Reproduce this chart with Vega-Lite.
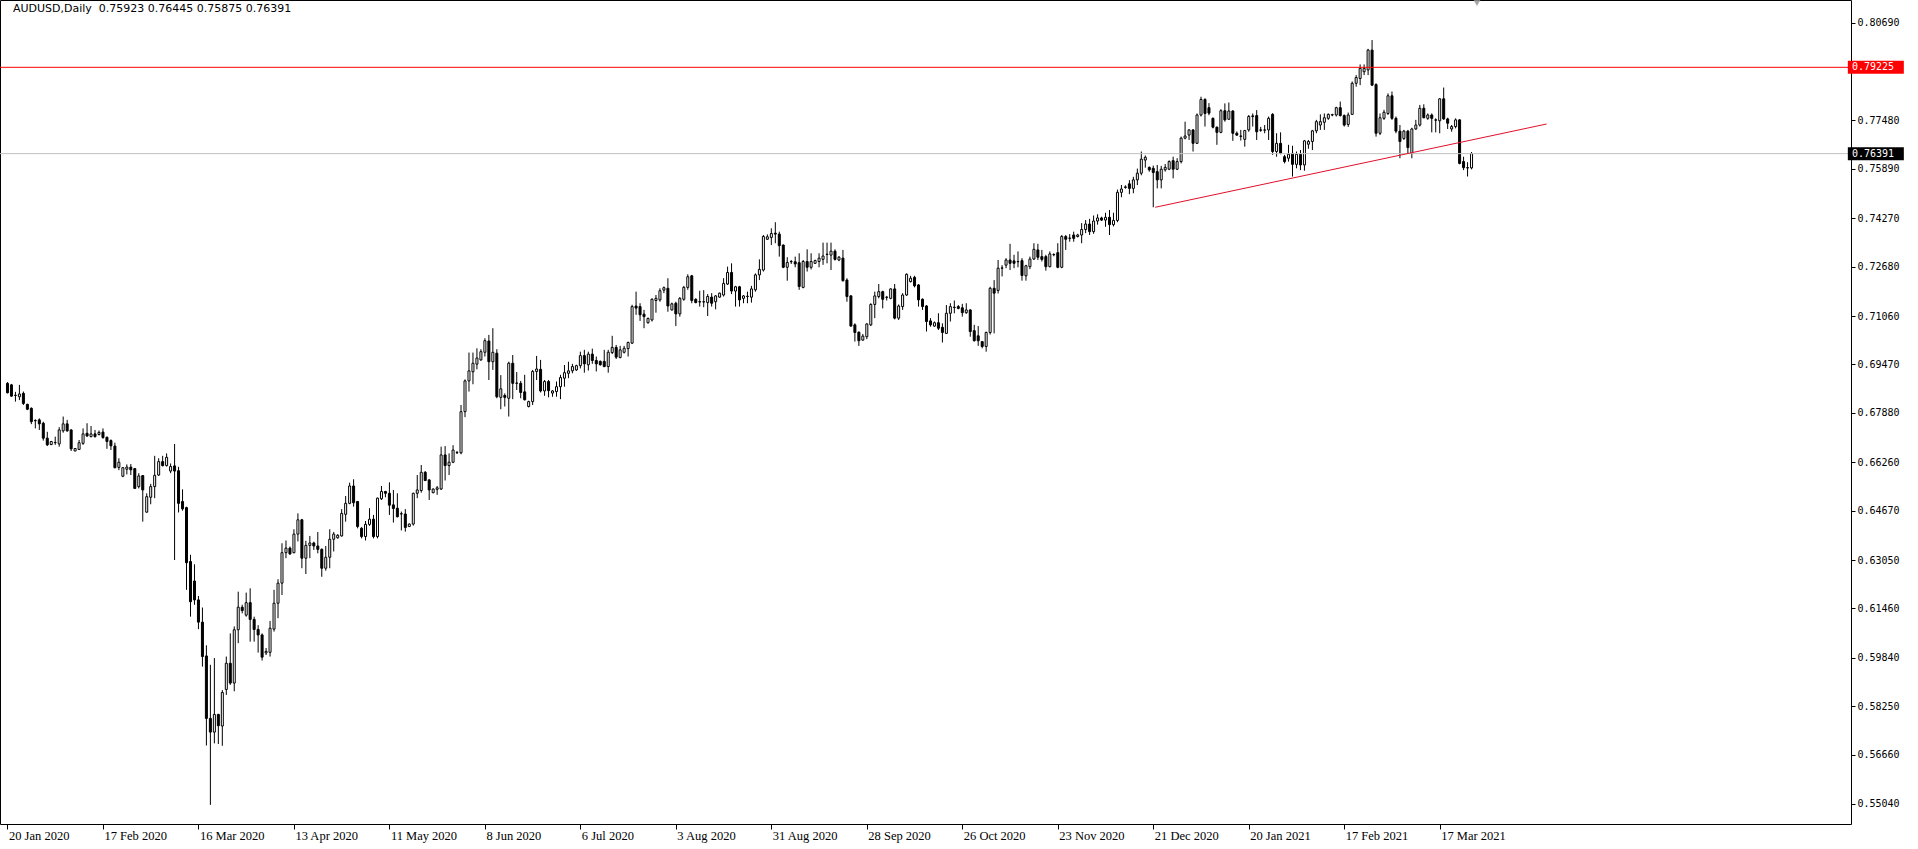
{
"$schema":"https://vega.github.io/schema/vega-lite/v6.json",
"width":1851,"height":824,
"autosize":{"type":"none"},
"padding":{"left":0,"top":0,"right":67,"bottom":25},
"background":"#ffffff",
"config":{"view":{"stroke":"#000000","strokeWidth":1},"axis":{"grid":false,"domain":false}},
"title":{"text":"AUDUSD,Daily\u00a0 0.75923 0.76445 0.75875 0.76391","anchor":"start","frame":"group","orient":"top","offset":-14,"dx":13,"baseline":"top","font":"DejaVu Sans","fontSize":11,"fontWeight":"normal","color":"#000000"},
"resolve":{"axis":{"x":"independent","y":"independent"}},
"layer":[
{"data":{"values":[
{"d":"2020-01-20","o":0.6885,"h":0.6889,"l":0.6852,"c":0.6854},
{"d":"2020-01-21","o":0.6880,"h":0.6883,"l":0.6841,"c":0.6843},
{"d":"2020-01-22","o":0.6845,"h":0.6857,"l":0.6825,"c":0.6846},
{"d":"2020-01-23","o":0.6841,"h":0.6880,"l":0.6830,"c":0.6850},
{"d":"2020-01-24","o":0.6852,"h":0.6858,"l":0.6814,"c":0.6819},
{"d":"2020-01-26","o":0.6816,"h":0.6818,"l":0.6797,"c":0.6800},
{"d":"2020-01-27","o":0.6803,"h":0.6806,"l":0.6751,"c":0.6759},
{"d":"2020-01-28","o":0.6762,"h":0.6767,"l":0.6737,"c":0.6763},
{"d":"2020-01-29","o":0.6765,"h":0.6770,"l":0.6732,"c":0.6752},
{"d":"2020-01-30","o":0.6754,"h":0.6759,"l":0.6697,"c":0.6705},
{"d":"2020-01-31","o":0.6705,"h":0.6726,"l":0.6679,"c":0.6683},
{"d":"2020-02-02","o":0.6684,"h":0.6696,"l":0.6682,"c":0.6694},
{"d":"2020-02-03","o":0.6690,"h":0.6710,"l":0.6683,"c":0.6691},
{"d":"2020-02-04","o":0.6686,"h":0.6741,"l":0.6677,"c":0.6732},
{"d":"2020-02-05","o":0.6729,"h":0.6776,"l":0.6723,"c":0.6752},
{"d":"2020-02-06","o":0.6752,"h":0.6765,"l":0.6726,"c":0.6729},
{"d":"2020-02-07","o":0.6732,"h":0.6734,"l":0.6663,"c":0.6670},
{"d":"2020-02-09","o":0.6663,"h":0.6672,"l":0.6662,"c":0.6671},
{"d":"2020-02-10","o":0.6668,"h":0.6699,"l":0.6666,"c":0.6690},
{"d":"2020-02-11","o":0.6688,"h":0.6737,"l":0.6683,"c":0.6719},
{"d":"2020-02-12","o":0.6721,"h":0.6754,"l":0.6710,"c":0.6712},
{"d":"2020-02-13","o":0.6710,"h":0.6745,"l":0.6708,"c":0.6719},
{"d":"2020-02-14","o":0.6719,"h":0.6732,"l":0.6707,"c":0.6710},
{"d":"2020-02-16","o":0.6717,"h":0.6730,"l":0.6714,"c":0.6724},
{"d":"2020-02-17","o":0.6725,"h":0.6737,"l":0.6703,"c":0.6707},
{"d":"2020-02-18","o":0.6708,"h":0.6710,"l":0.6670,"c":0.6694},
{"d":"2020-02-19","o":0.6697,"h":0.6701,"l":0.6666,"c":0.6680},
{"d":"2020-02-20","o":0.6679,"h":0.6690,"l":0.6606,"c":0.6608},
{"d":"2020-02-21","o":0.6609,"h":0.6639,"l":0.6600,"c":0.6626},
{"d":"2020-02-23","o":0.6580,"h":0.6610,"l":0.6577,"c":0.6608},
{"d":"2020-02-24","o":0.6603,"h":0.6619,"l":0.6586,"c":0.6610},
{"d":"2020-02-25","o":0.6610,"h":0.6620,"l":0.6584,"c":0.6601},
{"d":"2020-02-26","o":0.6605,"h":0.6607,"l":0.6538,"c":0.6540},
{"d":"2020-02-27","o":0.6546,"h":0.6590,"l":0.6540,"c":0.6581},
{"d":"2020-02-28","o":0.6582,"h":0.6584,"l":0.6431,"c":0.6535},
{"d":"2020-03-01","o":0.6462,"h":0.6524,"l":0.6461,"c":0.6513},
{"d":"2020-03-02","o":0.6511,"h":0.6555,"l":0.6488,"c":0.6546},
{"d":"2020-03-03","o":0.6546,"h":0.6647,"l":0.6508,"c":0.6583},
{"d":"2020-03-04","o":0.6584,"h":0.6639,"l":0.6581,"c":0.6628},
{"d":"2020-03-05","o":0.6628,"h":0.6647,"l":0.6612,"c":0.6615},
{"d":"2020-03-06","o":0.6615,"h":0.6655,"l":0.6612,"c":0.6642},
{"d":"2020-03-08","o":0.6597,"h":0.6622,"l":0.6590,"c":0.6612},
{"d":"2020-03-09","o":0.6614,"h":0.6686,"l":0.6305,"c":0.6597},
{"d":"2020-03-10","o":0.6598,"h":0.6611,"l":0.6461,"c":0.6491},
{"d":"2020-03-11","o":0.6497,"h":0.6537,"l":0.6467,"c":0.6473},
{"d":"2020-03-12","o":0.6477,"h":0.6480,"l":0.6207,"c":0.6296},
{"d":"2020-03-13","o":0.6300,"h":0.6322,"l":0.6119,"c":0.6168},
{"d":"2020-03-15","o":0.6236,"h":0.6291,"l":0.6158,"c":0.6174},
{"d":"2020-03-16","o":0.6174,"h":0.6187,"l":0.6078,"c":0.6101},
{"d":"2020-03-17","o":0.6101,"h":0.6149,"l":0.5955,"c":0.5988},
{"d":"2020-03-18","o":0.5990,"h":0.6025,"l":0.5696,"c":0.5785},
{"d":"2020-03-19","o":0.5785,"h":0.5961,"l":0.5501,"c":0.5740},
{"d":"2020-03-20","o":0.5740,"h":0.5983,"l":0.5703,"c":0.5798},
{"d":"2020-03-22","o":0.5798,"h":0.5800,"l":0.5701,"c":0.5761},
{"d":"2020-03-23","o":0.5760,"h":0.5878,"l":0.5695,"c":0.5870},
{"d":"2020-03-24","o":0.5880,"h":0.5988,"l":0.5862,"c":0.5966},
{"d":"2020-03-25","o":0.5966,"h":0.6064,"l":0.5895,"c":0.5901},
{"d":"2020-03-26","o":0.5901,"h":0.6087,"l":0.5874,"c":0.6076},
{"d":"2020-03-27","o":0.6076,"h":0.6201,"l":0.6032,"c":0.6150},
{"d":"2020-03-29","o":0.6150,"h":0.6158,"l":0.6130,"c":0.6139},
{"d":"2020-03-30","o":0.6124,"h":0.6198,"l":0.6119,"c":0.6165},
{"d":"2020-03-31","o":0.6165,"h":0.6212,"l":0.6037,"c":0.6110},
{"d":"2020-04-01","o":0.6110,"h":0.6119,"l":0.6037,"c":0.6077},
{"d":"2020-04-02","o":0.6077,"h":0.6091,"l":0.6001,"c":0.6059},
{"d":"2020-04-03","o":0.6059,"h":0.6064,"l":0.5975,"c":0.5986},
{"d":"2020-04-05","o":0.6000,"h":0.6016,"l":0.5993,"c":0.6005},
{"d":"2020-04-06","o":0.6002,"h":0.6105,"l":0.5988,"c":0.6081},
{"d":"2020-04-07","o":0.6078,"h":0.6207,"l":0.6070,"c":0.6163},
{"d":"2020-04-08","o":0.6163,"h":0.6242,"l":0.6114,"c":0.6229},
{"d":"2020-04-09","o":0.6229,"h":0.6360,"l":0.6190,"c":0.6329},
{"d":"2020-04-10","o":0.6329,"h":0.6369,"l":0.6311,"c":0.6344},
{"d":"2020-04-12","o":0.6344,"h":0.6349,"l":0.6322,"c":0.6325},
{"d":"2020-04-13","o":0.6329,"h":0.6406,"l":0.6327,"c":0.6390},
{"d":"2020-04-14","o":0.6390,"h":0.6458,"l":0.6366,"c":0.6437},
{"d":"2020-04-15","o":0.6437,"h":0.6440,"l":0.6278,"c":0.6311},
{"d":"2020-04-16","o":0.6311,"h":0.6368,"l":0.6259,"c":0.6353},
{"d":"2020-04-17","o":0.6353,"h":0.6384,"l":0.6311,"c":0.6361},
{"d":"2020-04-19","o":0.6361,"h":0.6365,"l":0.6338,"c":0.6351},
{"d":"2020-04-20","o":0.6351,"h":0.6397,"l":0.6327,"c":0.6340},
{"d":"2020-04-21","o":0.6340,"h":0.6343,"l":0.6250,"c":0.6278},
{"d":"2020-04-22","o":0.6278,"h":0.6351,"l":0.6270,"c":0.6314},
{"d":"2020-04-23","o":0.6314,"h":0.6406,"l":0.6278,"c":0.6373},
{"d":"2020-04-24","o":0.6373,"h":0.6397,"l":0.6333,"c":0.6390},
{"d":"2020-04-26","o":0.6378,"h":0.6390,"l":0.6375,"c":0.6386},
{"d":"2020-04-27","o":0.6384,"h":0.6472,"l":0.6382,"c":0.6458},
{"d":"2020-04-28","o":0.6455,"h":0.6515,"l":0.6431,"c":0.6491},
{"d":"2020-04-29","o":0.6491,"h":0.6559,"l":0.6488,"c":0.6548},
{"d":"2020-04-30","o":0.6548,"h":0.6570,"l":0.6480,"c":0.6493},
{"d":"2020-05-01","o":0.6497,"h":0.6499,"l":0.6409,"c":0.6415},
{"d":"2020-05-03","o":0.6409,"h":0.6413,"l":0.6376,"c":0.6382},
{"d":"2020-05-04","o":0.6382,"h":0.6433,"l":0.6369,"c":0.6422},
{"d":"2020-05-05","o":0.6422,"h":0.6475,"l":0.6417,"c":0.6439},
{"d":"2020-05-06","o":0.6439,"h":0.6453,"l":0.6376,"c":0.6382},
{"d":"2020-05-07","o":0.6382,"h":0.6510,"l":0.6376,"c":0.6508},
{"d":"2020-05-08","o":0.6506,"h":0.6548,"l":0.6502,"c":0.6530},
{"d":"2020-05-10","o":0.6530,"h":0.6532,"l":0.6511,"c":0.6524},
{"d":"2020-05-11","o":0.6524,"h":0.6560,"l":0.6453,"c":0.6485},
{"d":"2020-05-12","o":0.6486,"h":0.6535,"l":0.6428,"c":0.6474},
{"d":"2020-05-13","o":0.6475,"h":0.6524,"l":0.6445,"c":0.6447},
{"d":"2020-05-14","o":0.6456,"h":0.6464,"l":0.6402,"c":0.6457},
{"d":"2020-05-15","o":0.6456,"h":0.6472,"l":0.6398,"c":0.6412},
{"d":"2020-05-17","o":0.6415,"h":0.6425,"l":0.6413,"c":0.6423},
{"d":"2020-05-18","o":0.6423,"h":0.6526,"l":0.6418,"c":0.6524},
{"d":"2020-05-19","o":0.6524,"h":0.6584,"l":0.6508,"c":0.6535},
{"d":"2020-05-20","o":0.6533,"h":0.6617,"l":0.6526,"c":0.6593},
{"d":"2020-05-21","o":0.6593,"h":0.6597,"l":0.6564,"c":0.6566},
{"d":"2020-05-22","o":0.6568,"h":0.6570,"l":0.6502,"c":0.6535},
{"d":"2020-05-24","o":0.6526,"h":0.6540,"l":0.6524,"c":0.6538},
{"d":"2020-05-25","o":0.6537,"h":0.6548,"l":0.6519,"c":0.6542},
{"d":"2020-05-26","o":0.6538,"h":0.6677,"l":0.6535,"c":0.6650},
{"d":"2020-05-27","o":0.6650,"h":0.6679,"l":0.6566,"c":0.6615},
{"d":"2020-05-28","o":0.6615,"h":0.6655,"l":0.6584,"c":0.6626},
{"d":"2020-05-29","o":0.6626,"h":0.6682,"l":0.6623,"c":0.6666},
{"d":"2020-05-31","o":0.6657,"h":0.6663,"l":0.6653,"c":0.6658},
{"d":"2020-06-01","o":0.6657,"h":0.6814,"l":0.6652,"c":0.6792},
{"d":"2020-06-02","o":0.6792,"h":0.6898,"l":0.6774,"c":0.6893},
{"d":"2020-06-03","o":0.6893,"h":0.6986,"l":0.6858,"c":0.6926},
{"d":"2020-06-04","o":0.6923,"h":0.6986,"l":0.6882,"c":0.6951},
{"d":"2020-06-05","o":0.6948,"h":0.7000,"l":0.6931,"c":0.6968},
{"d":"2020-06-07","o":0.6962,"h":0.6997,"l":0.6959,"c":0.6989},
{"d":"2020-06-08","o":0.6987,"h":0.7033,"l":0.6973,"c":0.7025},
{"d":"2020-06-09","o":0.7024,"h":0.7044,"l":0.6896,"c":0.6956},
{"d":"2020-06-10","o":0.6956,"h":0.7066,"l":0.6929,"c":0.6987},
{"d":"2020-06-11","o":0.6984,"h":0.6997,"l":0.6836,"c":0.6841},
{"d":"2020-06-12","o":0.6839,"h":0.6912,"l":0.6800,"c":0.6867},
{"d":"2020-06-14","o":0.6845,"h":0.6852,"l":0.6809,"c":0.6839},
{"d":"2020-06-15","o":0.6836,"h":0.6956,"l":0.6776,"c":0.6951},
{"d":"2020-06-16","o":0.6951,"h":0.6978,"l":0.6833,"c":0.6885},
{"d":"2020-06-17","o":0.6885,"h":0.6922,"l":0.6863,"c":0.6886},
{"d":"2020-06-18","o":0.6885,"h":0.6893,"l":0.6836,"c":0.6855},
{"d":"2020-06-19","o":0.6857,"h":0.6913,"l":0.6829,"c":0.6831},
{"d":"2020-06-21","o":0.6809,"h":0.6828,"l":0.6806,"c":0.6825},
{"d":"2020-06-22","o":0.6825,"h":0.6929,"l":0.6814,"c":0.6924},
{"d":"2020-06-23","o":0.6924,"h":0.6975,"l":0.6896,"c":0.6932},
{"d":"2020-06-24","o":0.6931,"h":0.6962,"l":0.6855,"c":0.6860},
{"d":"2020-06-25","o":0.6860,"h":0.6896,"l":0.6844,"c":0.6891},
{"d":"2020-06-26","o":0.6891,"h":0.6896,"l":0.6839,"c":0.6861},
{"d":"2020-06-28","o":0.6853,"h":0.6863,"l":0.6841,"c":0.6860},
{"d":"2020-06-29","o":0.6858,"h":0.6891,"l":0.6841,"c":0.6874},
{"d":"2020-06-30","o":0.6874,"h":0.6913,"l":0.6833,"c":0.6904},
{"d":"2020-07-01","o":0.6902,"h":0.6945,"l":0.6874,"c":0.6920},
{"d":"2020-07-02","o":0.6918,"h":0.6956,"l":0.6902,"c":0.6926},
{"d":"2020-07-03","o":0.6926,"h":0.6949,"l":0.6918,"c":0.6940},
{"d":"2020-07-05","o":0.6929,"h":0.6946,"l":0.6926,"c":0.6943},
{"d":"2020-07-06","o":0.6943,"h":0.6989,"l":0.6934,"c":0.6976},
{"d":"2020-07-07","o":0.6976,"h":0.6995,"l":0.6920,"c":0.6949},
{"d":"2020-07-08","o":0.6946,"h":0.6989,"l":0.6927,"c":0.6981},
{"d":"2020-07-09","o":0.6981,"h":0.6999,"l":0.6949,"c":0.6960},
{"d":"2020-07-10","o":0.6960,"h":0.6973,"l":0.6924,"c":0.6949},
{"d":"2020-07-12","o":0.6957,"h":0.6960,"l":0.6943,"c":0.6946},
{"d":"2020-07-13","o":0.6957,"h":0.6995,"l":0.6938,"c":0.6940},
{"d":"2020-07-14","o":0.6940,"h":0.6995,"l":0.6920,"c":0.6987},
{"d":"2020-07-15","o":0.6986,"h":0.7041,"l":0.6981,"c":0.7003},
{"d":"2020-07-16","o":0.7003,"h":0.7011,"l":0.6965,"c":0.6971},
{"d":"2020-07-17","o":0.6970,"h":0.7008,"l":0.6967,"c":0.6995},
{"d":"2020-07-19","o":0.6987,"h":0.7008,"l":0.6983,"c":0.7000},
{"d":"2020-07-20","o":0.6999,"h":0.7022,"l":0.6973,"c":0.7019},
{"d":"2020-07-21","o":0.7017,"h":0.7143,"l":0.7014,"c":0.7137},
{"d":"2020-07-22","o":0.7139,"h":0.7186,"l":0.7110,"c":0.7132},
{"d":"2020-07-23","o":0.7137,"h":0.7148,"l":0.7090,"c":0.7110},
{"d":"2020-07-24","o":0.7112,"h":0.7126,"l":0.7066,"c":0.7104},
{"d":"2020-07-26","o":0.7084,"h":0.7101,"l":0.7081,"c":0.7098},
{"d":"2020-07-27","o":0.7093,"h":0.7164,"l":0.7088,"c":0.7161},
{"d":"2020-07-28","o":0.7157,"h":0.7175,"l":0.7117,"c":0.7164},
{"d":"2020-07-29","o":0.7159,"h":0.7197,"l":0.7153,"c":0.7189},
{"d":"2020-07-30","o":0.7191,"h":0.7203,"l":0.7181,"c":0.7199},
{"d":"2020-07-31","o":0.7197,"h":0.7230,"l":0.7120,"c":0.7139},
{"d":"2020-08-02","o":0.7126,"h":0.7150,"l":0.7124,"c":0.7146},
{"d":"2020-08-03","o":0.7148,"h":0.7153,"l":0.7073,"c":0.7113},
{"d":"2020-08-04","o":0.7113,"h":0.7168,"l":0.7104,"c":0.7164},
{"d":"2020-08-05","o":0.7161,"h":0.7205,"l":0.7156,"c":0.7200},
{"d":"2020-08-06","o":0.7200,"h":0.7243,"l":0.7192,"c":0.7235},
{"d":"2020-08-07","o":0.7238,"h":0.7241,"l":0.7148,"c":0.7157},
{"d":"2020-08-09","o":0.7161,"h":0.7164,"l":0.7148,"c":0.7150},
{"d":"2020-08-10","o":0.7153,"h":0.7189,"l":0.7137,"c":0.7152},
{"d":"2020-08-11","o":0.7152,"h":0.7191,"l":0.7135,"c":0.7153},
{"d":"2020-08-12","o":0.7150,"h":0.7178,"l":0.7106,"c":0.7170},
{"d":"2020-08-13","o":0.7168,"h":0.7181,"l":0.7137,"c":0.7148},
{"d":"2020-08-14","o":0.7153,"h":0.7175,"l":0.7128,"c":0.7172},
{"d":"2020-08-16","o":0.7168,"h":0.7183,"l":0.7166,"c":0.7181},
{"d":"2020-08-17","o":0.7175,"h":0.7230,"l":0.7170,"c":0.7213},
{"d":"2020-08-18","o":0.7211,"h":0.7268,"l":0.7208,"c":0.7249},
{"d":"2020-08-19","o":0.7249,"h":0.7279,"l":0.7178,"c":0.7188},
{"d":"2020-08-20","o":0.7188,"h":0.7205,"l":0.7137,"c":0.7202},
{"d":"2020-08-21","o":0.7202,"h":0.7205,"l":0.7137,"c":0.7159},
{"d":"2020-08-23","o":0.7164,"h":0.7175,"l":0.7148,"c":0.7172},
{"d":"2020-08-24","o":0.7170,"h":0.7186,"l":0.7148,"c":0.7171},
{"d":"2020-08-25","o":0.7168,"h":0.7205,"l":0.7150,"c":0.7195},
{"d":"2020-08-26","o":0.7192,"h":0.7246,"l":0.7186,"c":0.7241},
{"d":"2020-08-27","o":0.7241,"h":0.7292,"l":0.7224,"c":0.7259},
{"d":"2020-08-28","o":0.7257,"h":0.7372,"l":0.7252,"c":0.7367},
{"d":"2020-08-30","o":0.7358,"h":0.7374,"l":0.7356,"c":0.7366},
{"d":"2020-08-31","o":0.7364,"h":0.7394,"l":0.7339,"c":0.7377},
{"d":"2020-09-01","o":0.7378,"h":0.7414,"l":0.7345,"c":0.7375},
{"d":"2020-09-02","o":0.7375,"h":0.7383,"l":0.7301,"c":0.7337},
{"d":"2020-09-03","o":0.7339,"h":0.7341,"l":0.7263,"c":0.7266},
{"d":"2020-09-04","o":0.7266,"h":0.7299,"l":0.7222,"c":0.7282},
{"d":"2020-09-06","o":0.7284,"h":0.7290,"l":0.7277,"c":0.7285},
{"d":"2020-09-07","o":0.7284,"h":0.7301,"l":0.7266,"c":0.7277},
{"d":"2020-09-08","o":0.7281,"h":0.7312,"l":0.7192,"c":0.7203},
{"d":"2020-09-09","o":0.7200,"h":0.7290,"l":0.7197,"c":0.7285},
{"d":"2020-09-10","o":0.7285,"h":0.7325,"l":0.7252,"c":0.7266},
{"d":"2020-09-11","o":0.7266,"h":0.7312,"l":0.7259,"c":0.7285},
{"d":"2020-09-13","o":0.7279,"h":0.7291,"l":0.7277,"c":0.7288},
{"d":"2020-09-14","o":0.7285,"h":0.7312,"l":0.7266,"c":0.7296},
{"d":"2020-09-15","o":0.7292,"h":0.7347,"l":0.7274,"c":0.7303},
{"d":"2020-09-16","o":0.7309,"h":0.7347,"l":0.7279,"c":0.7308},
{"d":"2020-09-17","o":0.7306,"h":0.7347,"l":0.7257,"c":0.7319},
{"d":"2020-09-18","o":0.7319,"h":0.7325,"l":0.7288,"c":0.7292},
{"d":"2020-09-20","o":0.7290,"h":0.7303,"l":0.7286,"c":0.7299},
{"d":"2020-09-21","o":0.7296,"h":0.7323,"l":0.7219,"c":0.7222},
{"d":"2020-09-22","o":0.7224,"h":0.7230,"l":0.7153,"c":0.7170},
{"d":"2020-09-23","o":0.7172,"h":0.7175,"l":0.7071,"c":0.7073},
{"d":"2020-09-24","o":0.7077,"h":0.7082,"l":0.7022,"c":0.7052},
{"d":"2020-09-25","o":0.7053,"h":0.7055,"l":0.7008,"c":0.7025},
{"d":"2020-09-27","o":0.7027,"h":0.7047,"l":0.7025,"c":0.7040},
{"d":"2020-09-28","o":0.7038,"h":0.7082,"l":0.7030,"c":0.7080},
{"d":"2020-09-29","o":0.7077,"h":0.7148,"l":0.7073,"c":0.7144},
{"d":"2020-09-30","o":0.7144,"h":0.7186,"l":0.7099,"c":0.7172},
{"d":"2020-10-01","o":0.7170,"h":0.7211,"l":0.7164,"c":0.7186},
{"d":"2020-10-02","o":0.7186,"h":0.7189,"l":0.7131,"c":0.7161},
{"d":"2020-10-04","o":0.7167,"h":0.7172,"l":0.7157,"c":0.7168},
{"d":"2020-10-05","o":0.7164,"h":0.7197,"l":0.7161,"c":0.7195},
{"d":"2020-10-06","o":0.7195,"h":0.7211,"l":0.7095,"c":0.7099},
{"d":"2020-10-07","o":0.7099,"h":0.7144,"l":0.7093,"c":0.7139},
{"d":"2020-10-08","o":0.7137,"h":0.7181,"l":0.7126,"c":0.7175},
{"d":"2020-10-09","o":0.7175,"h":0.7246,"l":0.7172,"c":0.7243},
{"d":"2020-10-11","o":0.7219,"h":0.7238,"l":0.7216,"c":0.7230},
{"d":"2020-10-12","o":0.7233,"h":0.7238,"l":0.7200,"c":0.7205},
{"d":"2020-10-13","o":0.7208,"h":0.7211,"l":0.7137,"c":0.7159},
{"d":"2020-10-14","o":0.7161,"h":0.7164,"l":0.7126,"c":0.7137},
{"d":"2020-10-15","o":0.7139,"h":0.7142,"l":0.7055,"c":0.7088},
{"d":"2020-10-16","o":0.7090,"h":0.7099,"l":0.7071,"c":0.7077},
{"d":"2020-10-18","o":0.7073,"h":0.7088,"l":0.7071,"c":0.7084},
{"d":"2020-10-19","o":0.7084,"h":0.7115,"l":0.7060,"c":0.7066},
{"d":"2020-10-20","o":0.7069,"h":0.7082,"l":0.7019,"c":0.7052},
{"d":"2020-10-21","o":0.7049,"h":0.7142,"l":0.7047,"c":0.7115},
{"d":"2020-10-22","o":0.7115,"h":0.7148,"l":0.7088,"c":0.7137},
{"d":"2020-10-23","o":0.7135,"h":0.7157,"l":0.7115,"c":0.7134},
{"d":"2020-10-25","o":0.7137,"h":0.7142,"l":0.7128,"c":0.7131},
{"d":"2020-10-26","o":0.7133,"h":0.7146,"l":0.7104,"c":0.7117},
{"d":"2020-10-27","o":0.7117,"h":0.7148,"l":0.7113,"c":0.7126},
{"d":"2020-10-28","o":0.7126,"h":0.7128,"l":0.7038,"c":0.7055},
{"d":"2020-10-29","o":0.7058,"h":0.7077,"l":0.7022,"c":0.7025},
{"d":"2020-10-30","o":0.7041,"h":0.7073,"l":0.7008,"c":0.7025},
{"d":"2020-11-01","o":0.7022,"h":0.7024,"l":0.7000,"c":0.7006},
{"d":"2020-11-02","o":0.7006,"h":0.7055,"l":0.6989,"c":0.7052},
{"d":"2020-11-03","o":0.7052,"h":0.7202,"l":0.7045,"c":0.7197},
{"d":"2020-11-04","o":0.7197,"h":0.7224,"l":0.7049,"c":0.7181},
{"d":"2020-11-05","o":0.7190,"h":0.7290,"l":0.7180,"c":0.7263},
{"d":"2020-11-06","o":0.7263,"h":0.7273,"l":0.7236,"c":0.7264},
{"d":"2020-11-08","o":0.7273,"h":0.7296,"l":0.7263,"c":0.7290},
{"d":"2020-11-09","o":0.7290,"h":0.7343,"l":0.7257,"c":0.7279},
{"d":"2020-11-10","o":0.7287,"h":0.7307,"l":0.7263,"c":0.7279},
{"d":"2020-11-11","o":0.7284,"h":0.7318,"l":0.7266,"c":0.7285},
{"d":"2020-11-12","o":0.7288,"h":0.7296,"l":0.7222,"c":0.7239},
{"d":"2020-11-13","o":0.7238,"h":0.7274,"l":0.7222,"c":0.7271},
{"d":"2020-11-15","o":0.7268,"h":0.7301,"l":0.7260,"c":0.7293},
{"d":"2020-11-16","o":0.7293,"h":0.7345,"l":0.7290,"c":0.7325},
{"d":"2020-11-17","o":0.7323,"h":0.7343,"l":0.7290,"c":0.7299},
{"d":"2020-11-18","o":0.7301,"h":0.7323,"l":0.7285,"c":0.7292},
{"d":"2020-11-19","o":0.7301,"h":0.7307,"l":0.7255,"c":0.7268},
{"d":"2020-11-20","o":0.7268,"h":0.7318,"l":0.7266,"c":0.7310},
{"d":"2020-11-22","o":0.7307,"h":0.7312,"l":0.7302,"c":0.7308},
{"d":"2020-11-23","o":0.7314,"h":0.7345,"l":0.7263,"c":0.7266},
{"d":"2020-11-24","o":0.7266,"h":0.7372,"l":0.7263,"c":0.7367},
{"d":"2020-11-25","o":0.7367,"h":0.7372,"l":0.7323,"c":0.7358},
{"d":"2020-11-26","o":0.7361,"h":0.7375,"l":0.7350,"c":0.7362},
{"d":"2020-11-27","o":0.7372,"h":0.7383,"l":0.7350,"c":0.7361},
{"d":"2020-11-29","o":0.7367,"h":0.7376,"l":0.7364,"c":0.7372},
{"d":"2020-11-30","o":0.7372,"h":0.7411,"l":0.7345,"c":0.7390},
{"d":"2020-12-01","o":0.7390,"h":0.7421,"l":0.7378,"c":0.7408},
{"d":"2020-12-02","o":0.7408,"h":0.7425,"l":0.7372,"c":0.7383},
{"d":"2020-12-03","o":0.7383,"h":0.7436,"l":0.7376,"c":0.7418},
{"d":"2020-12-04","o":0.7418,"h":0.7440,"l":0.7406,"c":0.7428},
{"d":"2020-12-06","o":0.7428,"h":0.7432,"l":0.7418,"c":0.7421},
{"d":"2020-12-07","o":0.7421,"h":0.7445,"l":0.7399,"c":0.7430},
{"d":"2020-12-08","o":0.7430,"h":0.7454,"l":0.7372,"c":0.7406},
{"d":"2020-12-09","o":0.7406,"h":0.7445,"l":0.7400,"c":0.7420},
{"d":"2020-12-10","o":0.7420,"h":0.7521,"l":0.7414,"c":0.7512},
{"d":"2020-12-11","o":0.7512,"h":0.7536,"l":0.7496,"c":0.7523},
{"d":"2020-12-13","o":0.7528,"h":0.7535,"l":0.7524,"c":0.7530},
{"d":"2020-12-14","o":0.7540,"h":0.7552,"l":0.7506,"c":0.7525},
{"d":"2020-12-15","o":0.7525,"h":0.7563,"l":0.7509,"c":0.7553},
{"d":"2020-12-16","o":0.7553,"h":0.7590,"l":0.7536,"c":0.7575},
{"d":"2020-12-17","o":0.7575,"h":0.7646,"l":0.7568,"c":0.7621},
{"d":"2020-12-18","o":0.7618,"h":0.7633,"l":0.7593,"c":0.7627},
{"d":"2020-12-20","o":0.7594,"h":0.7597,"l":0.7580,"c":0.7586},
{"d":"2020-12-21","o":0.7591,"h":0.7600,"l":0.7463,"c":0.7577},
{"d":"2020-12-22","o":0.7580,"h":0.7602,"l":0.7525,"c":0.7553},
{"d":"2020-12-23","o":0.7553,"h":0.7599,"l":0.7525,"c":0.7588},
{"d":"2020-12-24","o":0.7586,"h":0.7605,"l":0.7580,"c":0.7594},
{"d":"2020-12-27","o":0.7588,"h":0.7617,"l":0.7585,"c":0.7613},
{"d":"2020-12-28","o":0.7616,"h":0.7629,"l":0.7558,"c":0.7588},
{"d":"2020-12-29","o":0.7588,"h":0.7624,"l":0.7585,"c":0.7613},
{"d":"2020-12-30","o":0.7613,"h":0.7695,"l":0.7607,"c":0.7690},
{"d":"2020-12-31","o":0.7690,"h":0.7744,"l":0.7686,"c":0.7697},
{"d":"2021-01-03","o":0.7700,"h":0.7719,"l":0.7684,"c":0.7717},
{"d":"2021-01-04","o":0.7717,"h":0.7719,"l":0.7646,"c":0.7673},
{"d":"2021-01-05","o":0.7673,"h":0.7771,"l":0.7671,"c":0.7766},
{"d":"2021-01-06","o":0.7766,"h":0.7826,"l":0.7761,"c":0.7817},
{"d":"2021-01-07","o":0.7817,"h":0.7821,"l":0.7728,"c":0.7771},
{"d":"2021-01-08","o":0.7790,"h":0.7805,"l":0.7765,"c":0.7772},
{"d":"2021-01-10","o":0.7755,"h":0.7758,"l":0.7722,"c":0.7726},
{"d":"2021-01-11","o":0.7726,"h":0.7728,"l":0.7668,"c":0.7709},
{"d":"2021-01-12","o":0.7709,"h":0.7785,"l":0.7706,"c":0.7780},
{"d":"2021-01-13","o":0.7780,"h":0.7804,"l":0.7744,"c":0.7750},
{"d":"2021-01-14","o":0.7752,"h":0.7807,"l":0.7750,"c":0.7779},
{"d":"2021-01-15","o":0.7779,"h":0.7782,"l":0.7681,"c":0.7706},
{"d":"2021-01-17","o":0.7706,"h":0.7712,"l":0.7697,"c":0.7700},
{"d":"2021-01-18","o":0.7697,"h":0.7717,"l":0.7682,"c":0.7696},
{"d":"2021-01-19","o":0.7686,"h":0.7717,"l":0.7662,"c":0.7715},
{"d":"2021-01-20","o":0.7717,"h":0.7766,"l":0.7711,"c":0.7761},
{"d":"2021-01-21","o":0.7763,"h":0.7771,"l":0.7728,"c":0.7761},
{"d":"2021-01-22","o":0.7764,"h":0.7782,"l":0.7684,"c":0.7711},
{"d":"2021-01-24","o":0.7717,"h":0.7727,"l":0.7711,"c":0.7716},
{"d":"2021-01-25","o":0.7716,"h":0.7733,"l":0.7706,"c":0.7717},
{"d":"2021-01-26","o":0.7717,"h":0.7761,"l":0.7684,"c":0.7755},
{"d":"2021-01-27","o":0.7768,"h":0.7772,"l":0.7635,"c":0.7646},
{"d":"2021-01-28","o":0.7646,"h":0.7706,"l":0.7629,"c":0.7673},
{"d":"2021-01-29","o":0.7673,"h":0.7709,"l":0.7637,"c":0.7640},
{"d":"2021-01-31","o":0.7629,"h":0.7635,"l":0.7607,"c":0.7613},
{"d":"2021-02-01","o":0.7624,"h":0.7668,"l":0.7613,"c":0.7637},
{"d":"2021-02-02","o":0.7640,"h":0.7665,"l":0.7564,"c":0.7604},
{"d":"2021-02-03","o":0.7604,"h":0.7646,"l":0.7591,"c":0.7637},
{"d":"2021-02-04","o":0.7637,"h":0.7651,"l":0.7585,"c":0.7602},
{"d":"2021-02-05","o":0.7602,"h":0.7684,"l":0.7583,"c":0.7681},
{"d":"2021-02-07","o":0.7670,"h":0.7684,"l":0.7655,"c":0.7679},
{"d":"2021-02-08","o":0.7679,"h":0.7717,"l":0.7651,"c":0.7714},
{"d":"2021-02-09","o":0.7714,"h":0.7750,"l":0.7706,"c":0.7744},
{"d":"2021-02-10","o":0.7733,"h":0.7768,"l":0.7717,"c":0.7744},
{"d":"2021-02-11","o":0.7742,"h":0.7771,"l":0.7717,"c":0.7757},
{"d":"2021-02-12","o":0.7755,"h":0.7771,"l":0.7750,"c":0.7768},
{"d":"2021-02-14","o":0.7766,"h":0.7770,"l":0.7762,"c":0.7767},
{"d":"2021-02-15","o":0.7766,"h":0.7793,"l":0.7761,"c":0.7790},
{"d":"2021-02-16","o":0.7790,"h":0.7810,"l":0.7761,"c":0.7764},
{"d":"2021-02-17","o":0.7764,"h":0.7768,"l":0.7728,"c":0.7733},
{"d":"2021-02-18","o":0.7735,"h":0.7774,"l":0.7727,"c":0.7766},
{"d":"2021-02-19","o":0.7768,"h":0.7876,"l":0.7766,"c":0.7870},
{"d":"2021-02-21","o":0.7870,"h":0.7897,"l":0.7859,"c":0.7889},
{"d":"2021-02-22","o":0.7886,"h":0.7932,"l":0.7864,"c":0.7919},
{"d":"2021-02-23","o":0.7908,"h":0.7932,"l":0.7897,"c":0.7919},
{"d":"2021-02-24","o":0.7914,"h":0.7983,"l":0.7897,"c":0.7979},
{"d":"2021-02-25","o":0.7979,"h":0.8012,"l":0.7861,"c":0.7864},
{"d":"2021-02-26","o":0.7866,"h":0.7870,"l":0.7695,"c":0.7706},
{"d":"2021-02-28","o":0.7706,"h":0.7771,"l":0.7700,"c":0.7757},
{"d":"2021-03-01","o":0.7755,"h":0.7783,"l":0.7750,"c":0.7775},
{"d":"2021-03-02","o":0.7771,"h":0.7837,"l":0.7766,"c":0.7829},
{"d":"2021-03-03","o":0.7829,"h":0.7843,"l":0.7750,"c":0.7755},
{"d":"2021-03-04","o":0.7755,"h":0.7761,"l":0.7706,"c":0.7713},
{"d":"2021-03-05","o":0.7713,"h":0.7733,"l":0.7624,"c":0.7679},
{"d":"2021-03-07","o":0.7689,"h":0.7717,"l":0.7684,"c":0.7713},
{"d":"2021-03-08","o":0.7713,"h":0.7717,"l":0.7640,"c":0.7659},
{"d":"2021-03-09","o":0.7640,"h":0.7724,"l":0.7624,"c":0.7720},
{"d":"2021-03-10","o":0.7720,"h":0.7750,"l":0.7717,"c":0.7733},
{"d":"2021-03-11","o":0.7733,"h":0.7799,"l":0.7728,"c":0.7788},
{"d":"2021-03-12","o":0.7788,"h":0.7801,"l":0.7755,"c":0.7757},
{"d":"2021-03-14","o":0.7755,"h":0.7771,"l":0.7750,"c":0.7766},
{"d":"2021-03-15","o":0.7766,"h":0.7771,"l":0.7709,"c":0.7755},
{"d":"2021-03-16","o":0.7750,"h":0.7755,"l":0.7709,"c":0.7749},
{"d":"2021-03-17","o":0.7747,"h":0.7821,"l":0.7706,"c":0.7819},
{"d":"2021-03-18","o":0.7819,"h":0.7856,"l":0.7750,"c":0.7753},
{"d":"2021-03-19","o":0.7753,"h":0.7757,"l":0.7720,"c":0.7739},
{"d":"2021-03-21","o":0.7720,"h":0.7733,"l":0.7711,"c":0.7728},
{"d":"2021-03-22","o":0.7728,"h":0.7755,"l":0.7722,"c":0.7750},
{"d":"2021-03-23","o":0.7750,"h":0.7752,"l":0.7604,"c":0.7607},
{"d":"2021-03-24","o":0.7613,"h":0.7629,"l":0.7585,"c":0.7593},
{"d":"2021-03-25","o":0.7593,"h":0.7611,"l":0.7564,"c":0.7592},
{"d":"2021-03-26","o":0.75923,"h":0.76445,"l":0.75875,"c":0.76391}
]},
"transform":[{"window":[{"op":"row_number","as":"n"}]}],
"resolve":{"axis":{"x":"independent","y":"independent"}},
"layer":[
{"mark":{"type":"rule","color":"#000000","strokeWidth":1},
"encoding":{
"x":{"field":"n","type":"quantitative","scale":{"domain":[0.375,463.125],"nice":false,"zero":false},
"axis":{"orient":"bottom","values":[1,25,49,73,97,121,145,169,193,217,241,265,289,313,337,361],
"labelExpr":"['20 Jan 2020','17 Feb 2020','16 Mar 2020','13 Apr 2020','11 May 2020','8 Jun 2020','6 Jul 2020','3 Aug 2020','31 Aug 2020','28 Sep 2020','26 Oct 2020','23 Nov 2020','21 Dec 2020','20 Jan 2021','17 Feb 2021','17 Mar 2021'][round((datum.value-1)/24)]",
"title":null,"tickSize":5,"tickColor":"#000000","labelAlign":"left","labelBaseline":"top","labelPadding":0,"labelOffset":1,"labelFont":"Liberation Sans Narrow","labelFontSize":12.5,"labelColor":"#000000","labelFlush":false,"labelOverlap":false,"labelBound":false}},
"y":{"field":"l","type":"quantitative","scale":{"domain":[0.54383,0.81435],"nice":false,"zero":false},
"axis":{"orient":"right","values":[0.8069,0.7748,0.7589,0.7427,0.7268,0.7106,0.6947,0.6788,0.6626,0.6467,0.6305,0.6146,0.5984,0.5825,0.5666,0.5504],"format":".5f","title":null,"tickSize":4,"tickColor":"#000000","labelFont":"DejaVu Sans Mono","labelFontSize":10,"labelColor":"#000000","labelPadding":2,"labelOverlap":false,"labelFlush":false,"labelBound":false}},
"y2":{"field":"h"}}},
{"mark":{"type":"bar","width":2,"stroke":"#000000","strokeWidth":1},
"encoding":{"x":{"field":"n","type":"quantitative","axis":null},
"y":{"field":"o","type":"quantitative","axis":null},"y2":{"field":"c"},
"fill":{"condition":{"test":"datum.c >= datum.o","value":"#ffffff"},"value":"#000000"}}}
]},
{"data":{"values":[{"p":0.76391}]},
"resolve":{"axis":{"x":"independent","y":"independent"}},
"layer":[
{"mark":{"type":"rule","color":"#c0c0c0","strokeWidth":1},"encoding":{"y":{"field":"p","type":"quantitative","axis":null}}},
{"mark":{"type":"point","shape":"M-1,-0.232L1,-0.232L1,0.232L-1,0.232Z","size":3136,"filled":true,"fill":"#000000","opacity":1,"strokeWidth":0},
"encoding":{"x":{"datum":470.625,"type":"quantitative","axis":null},"y":{"field":"p","type":"quantitative","axis":null}}},
{"mark":{"type":"text","align":"left","baseline":"middle","font":"DejaVu Sans Mono","fontSize":10,"color":"#ffffff"},
"encoding":{"x":{"datum":464.625,"type":"quantitative","axis":null},"y":{"field":"p","type":"quantitative","axis":null},"text":{"field":"p","type":"quantitative","format":".5f"}}}
]},
{"data":{"values":[{"p":0.79225}]},
"resolve":{"axis":{"x":"independent","y":"independent"}},
"layer":[
{"mark":{"type":"rule","color":"#ff0000","strokeWidth":1},"encoding":{"y":{"field":"p","type":"quantitative","axis":null}}},
{"mark":{"type":"point","shape":"M-1,-0.232L1,-0.232L1,0.232L-1,0.232Z","size":3136,"filled":true,"fill":"#ff0000","opacity":1,"strokeWidth":0},
"encoding":{"x":{"datum":470.625,"type":"quantitative","axis":null},"y":{"field":"p","type":"quantitative","axis":null}}},
{"mark":{"type":"text","align":"left","baseline":"middle","font":"DejaVu Sans Mono","fontSize":10,"color":"#ffffff"},
"encoding":{"x":{"datum":464.625,"type":"quantitative","axis":null},"y":{"field":"p","type":"quantitative","axis":null},"text":{"field":"p","type":"quantitative","format":".5f"}}}
]},
{"data":{"values":[{"n1":289.5,"p1":0.7463,"n2":387.875,"p2":0.77364}]},
"mark":{"type":"rule","color":"#e0102a","strokeWidth":1},
"encoding":{"x":{"field":"n1","type":"quantitative","axis":null},"x2":{"field":"n2"},"y":{"field":"p1","type":"quantitative","axis":null},"y2":{"field":"p2"}}},
{"data":{"values":[{}]},
"mark":{"type":"point","shape":"triangle-down","size":45,"filled":true,"fill":"#a8a8a8","opacity":1,"strokeWidth":0},
"encoding":{"x":{"datum":370.375,"type":"quantitative","axis":null},"y":{"datum":0.8133,"type":"quantitative","axis":null}}}
]
}
